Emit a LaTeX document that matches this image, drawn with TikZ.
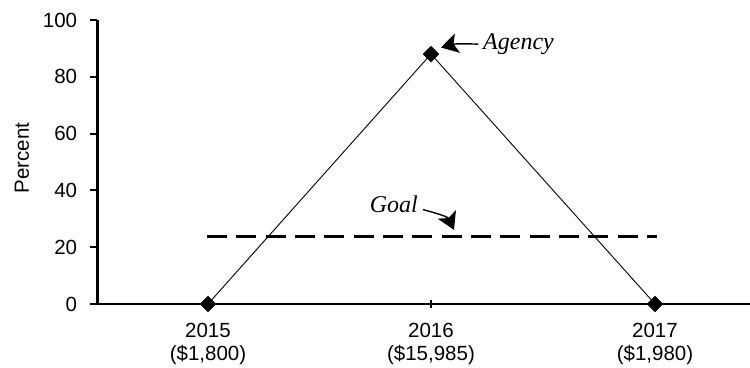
\documentclass[tikz,border=0pt]{standalone}
\usepackage{fontspec}
\setmainfont{Liberation Sans}
\newfontfamily\notefont{Liberation Serif}
\usetikzlibrary{shapes.geometric,arrows.meta}
\tikzset{datapt/.style={diamond, draw, fill=black, inner sep=0pt, minimum size=16pt}}
\tikzset{callout/.style={line width=1.4pt, -{Stealth[length=17pt,width=20pt,inset=4pt]}}}
\tikzset{notelabel/.style={font=\notefont\itshape\fontsize{24}{27}\selectfont, inner sep=5pt}}
\tikzset{yearlabel/.style={align=center, anchor=north, inner sep=0pt}}
\tikzset{goalline/.style={line width=3pt, dash pattern=on 20pt off 9.33pt}}

\begin{document}
\begin{tikzpicture}[x=1pt,y=2.84pt,font=\fontsize{20.5}{23.4}\selectfont]
    \useasboundingbox (-97,-22.535) rectangle (653,107.04);
    % axes
    \draw[line width=3pt] (0,0) -- (0,100);
    \draw[line width=2pt] (0,0) -- (653,0);
    \foreach \v in {0,20,...,100} {
      \draw[line width=2pt] ([xshift=-7pt]0,\v) -- (0,\v);
      \node[anchor=east, inner sep=0pt] (tick\v) at ([xshift=-19.7pt]0,\v) {\v};
    }
    \node[rotate=90] (ylabel) at (-75,51.4) {Percent};
    % goal
    \coordinate (goalL) at (110,23.6);
    \coordinate (goalR) at (560,23.6);
    \draw[goalline] (goalL) -- (goalR);
    % data
    \coordinate (c2015) at (111,0);
    \coordinate (c2016) at (334,88);
    \coordinate (c2017) at (558,0);
    \foreach \c in {c2015,c2016,c2017}
      \draw[line width=1.5pt] ([yshift=-4pt]\c |- 0,0) -- ([yshift=4pt]\c |- 0,0);
    \draw[line width=0.9pt] (c2015) -- (c2016) -- (c2017);
    \node[datapt] (p2015) at (c2015) {};
    \node[datapt] (p2016) at (c2016) {};
    \node[datapt] (p2017) at (c2017) {};
    \node[yearlabel] (y2015) at ([yshift=-19pt]c2015) {2015\\(\$1,800)};
    \node[yearlabel] (y2016) at ([yshift=-19pt]c2016 |- 0,0) {2016\\(\$15,985)};
    \node[yearlabel] (y2017) at ([yshift=-19pt]c2017) {2017\\(\$1,980)};
    % callouts
    \node[notelabel, anchor=west] (agency) at (381,91.5) {Agency};
    \coordinate (agencytip) at (344,90.3);
    \draw[callout] (agency.west) to[out=178,in=15] (agencytip);
    \node[notelabel, anchor=east] (goal) at (326,35) {Goal};
    \coordinate (goaltip) at (357,26.1);
    \draw[callout] ([yshift=-5pt]goal.east) to[out=-15,in=115] (goaltip);
\end{tikzpicture}
\end{document}
